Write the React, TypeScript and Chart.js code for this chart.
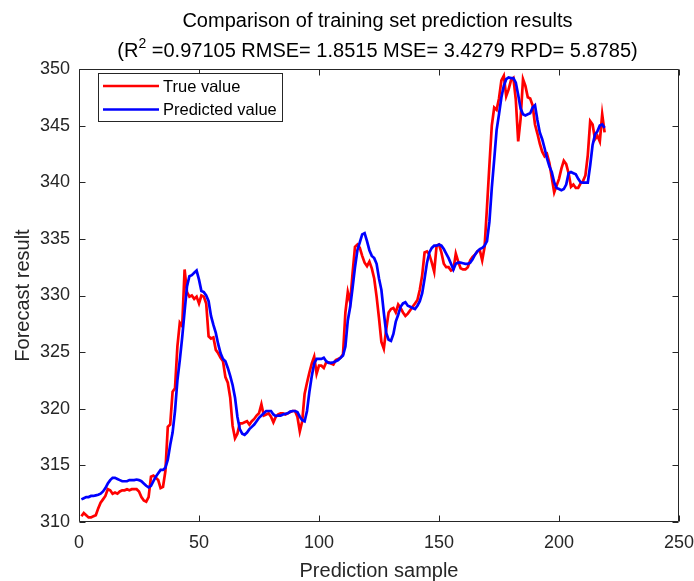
import React, { useEffect, useRef } from "react";
import { Chart, registerables } from "chart.js";

Chart.register(...registerables);

const trueValues = [
  310.5, 310.8, 310.6, 310.4, 310.4, 310.5, 310.6, 311.2, 311.7, 312.0,
  312.3, 312.9, 312.8, 312.5, 312.6, 312.5, 312.7, 312.8, 312.8, 312.9,
  312.8, 312.9, 312.9, 312.9, 312.7, 312.2, 311.9, 311.8, 312.2, 314.0,
  314.1, 313.9, 313.7, 313.0, 313.1, 314.5, 318.4, 318.6, 321.5, 321.8,
  325.5, 327.6, 327.3, 332.3, 330.3, 329.9, 330.0, 329.7, 329.9, 329.3,
  330.0, 329.9, 329.3, 326.4, 326.2, 326.3, 325.2, 324.9, 324.5, 324.2,
  322.8, 322.3, 321.0, 318.5, 317.4, 317.8, 318.7, 318.7, 318.8, 318.9,
  318.6, 318.9, 319.1, 319.4, 319.6, 320.4, 319.4, 319.5, 319.6, 319.3,
  318.8, 319.3, 319.5, 319.6, 319.6, 319.5, 319.6, 319.7, 319.8, 319.8,
  319.3, 318.0, 318.9, 321.3, 322.3, 323.2, 324.0, 324.6, 323.1, 323.8,
  323.8, 323.6, 324.1, 324.1, 324.0, 323.9, 324.3, 324.4, 324.5, 324.8,
  328.5, 330.3, 329.4, 332.0, 334.3, 334.5, 334.2, 333.5, 332.9, 332.6,
  333.0, 332.4, 331.5, 329.9, 328.0, 325.9, 325.3, 327.0, 328.5, 328.8,
  328.9, 328.5, 329.2, 328.9, 328.5, 328.2, 328.4, 328.7, 329.0, 329.3,
  329.6, 330.5, 331.8, 333.8, 333.9, 333.6, 332.9, 332.1, 334.4, 334.5,
  333.8, 332.8, 332.5, 332.5, 332.2, 332.3, 333.7, 333.0, 332.4, 332.3,
  332.3, 332.5, 333.1, 333.4, 333.6, 333.9, 334.0, 333.1, 334.3, 337.8,
  341.5, 345.0, 346.6, 346.4, 347.4, 349.0, 349.4, 347.6, 348.2, 349.0,
  349.2, 347.3, 343.6, 345.6, 349.1, 348.5, 347.5, 347.4, 346.8, 345.1,
  344.3, 343.4, 342.7, 342.3, 342.5, 341.7, 340.4, 339.1, 339.7, 340.3,
  341.2, 341.9, 341.6, 340.8, 339.6, 339.8, 339.5, 339.5, 339.9, 340.1,
  340.6, 342.4, 345.4, 345.1, 343.8, 344.1, 343.6, 346.0, 344.4,
];

const predictedValues = [
  312.0, 312.1, 312.2, 312.2, 312.3, 312.3, 312.35, 312.4, 312.5, 312.7,
  313.0, 313.4, 313.7, 313.9, 313.9, 313.8, 313.7, 313.6, 313.6, 313.6,
  313.7, 313.7, 313.7, 313.75, 313.7, 313.6, 313.4, 313.2, 313.05, 313.2,
  313.6, 314.0, 314.3, 314.6, 314.6, 314.8, 315.5, 316.8, 317.9, 319.8,
  322.5, 324.3, 326.3, 328.6, 330.8, 331.7, 331.8, 332.0, 332.2, 331.4,
  330.4, 330.3, 330.0, 329.5, 328.2, 327.4, 326.7, 325.7, 324.9, 324.4,
  324.2, 323.6, 322.9, 322.1, 321.0, 319.3, 318.2, 317.8, 317.7, 317.9,
  318.2, 318.4, 318.6, 318.9, 319.2, 319.4, 319.6, 319.8, 319.8, 319.8,
  319.5, 319.35, 319.4, 319.4, 319.5, 319.55, 319.6, 319.75, 319.8, 319.8,
  319.7, 319.3, 319.0, 318.9, 319.8, 321.5, 322.9, 324.0, 324.4, 324.4,
  324.4, 324.5, 324.2, 324.05, 324.05, 324.1, 324.2, 324.3, 324.5, 324.7,
  325.5, 327.8, 329.0, 330.7, 332.5, 334.0, 334.7, 335.4, 335.5, 334.8,
  334.0, 333.5, 333.3, 332.8, 331.5, 330.5, 328.5, 326.7, 326.1, 326.0,
  326.6, 327.7, 328.3, 329.0, 329.3, 329.4, 329.1, 329.0, 328.9, 328.8,
  329.1, 329.5, 330.2, 331.5, 332.9, 333.8, 334.2, 334.4, 334.4, 334.5,
  334.4, 334.1, 333.7, 333.3, 332.8, 332.3, 332.8, 332.9, 332.9, 332.85,
  332.8, 332.8, 332.9, 333.2, 333.6, 333.9, 334.1, 334.2, 334.4, 334.8,
  336.5, 339.5, 342.0, 344.6, 346.0, 347.5, 348.5, 349.1, 349.25, 349.2,
  349.2, 348.8, 347.7, 346.5, 346.0, 345.9, 346.0, 346.1, 346.6, 346.8,
  345.5, 344.4, 343.8, 343.0, 342.1, 341.4, 340.9, 340.0, 339.5, 339.4,
  339.3, 339.4, 339.8, 340.8, 340.9, 340.8, 340.7, 340.3, 340.0, 339.97,
  339.97, 339.97, 341.5, 343.3, 344.2, 344.5, 345.0, 345.1, 344.8,
];

const sampleIndex = trueValues.map((_, i) => i + 1);

const xTicks = [0, 50, 100, 150, 200, 250];
const yTicks = [310, 315, 320, 325, 330, 335, 340, 345, 350];

const titleLine1 = "Comparison of training set prediction results";
const titleLine2Parts = ["(R", "2", " =0.97105 RMSE= 1.8515 MSE= 3.4279 RPD= 5.8785)"];
const xLabel = "Prediction sample";
const yLabel = "Forecast result";
const seriesLabels = ["True value", "Predicted value"];
const seriesColors = ["#ff0000", "#0000ff"];

const FONT = "'Liberation Sans', Arial, Helvetica, sans-serif";
const AXIS_COLOR = "#262626";

const W = 694;
const H = 581;

const decorPlugin = {
  id: "matlabDecor",
  afterDraw(chart: any) {
    const ctx = chart.ctx as CanvasRenderingContext2D;
    const { left, right, top, bottom } = chart.chartArea;
    const xs = chart.scales.x;
    const ys = chart.scales.y;
    ctx.save();
    // box
    ctx.strokeStyle = AXIS_COLOR;
    ctx.lineWidth = 1;
    const L = Math.round(left) + 0.5;
    const R = Math.round(right) - 0.5;
    const T = Math.round(top) + 0.5;
    const B = Math.round(bottom) - 0.5;
    ctx.beginPath();
    ctx.rect(L, T, R - L, B - T);
    ctx.stroke();
    // inward ticks
    const tl = 6;
    ctx.beginPath();
    xTicks.forEach((v) => {
      const px = Math.round(xs.getPixelForValue(v)) + 0.5;
      ctx.moveTo(px, B);
      ctx.lineTo(px, B - tl);
      ctx.moveTo(px, T);
      ctx.lineTo(px, T + tl);
    });
    yTicks.forEach((v) => {
      const py = Math.round(ys.getPixelForValue(v)) + 0.5;
      ctx.moveTo(L, py);
      ctx.lineTo(L + tl, py);
      ctx.moveTo(R, py);
      ctx.lineTo(R - tl, py);
    });
    ctx.stroke();

    // legend
    const lx = 98.5, ly = 73.5, lw = 184, lh = 48;
    ctx.fillStyle = "#ffffff";
    ctx.fillRect(lx, ly, lw, lh);
    ctx.strokeStyle = AXIS_COLOR;
    ctx.lineWidth = 1;
    ctx.strokeRect(lx, ly, lw, lh);
    const rows = [86, 109.5];
    ctx.font = `16.5px ${FONT}`;
    ctx.textBaseline = "middle";
    ctx.textAlign = "left";
    chart.data.datasets.forEach((ds: any, i: number) => {
      const y = rows[i];
      ctx.strokeStyle = ds.borderColor;
      ctx.lineWidth = 2.7;
      ctx.beginPath();
      ctx.moveTo(103, y);
      ctx.lineTo(159, y);
      ctx.stroke();
      ctx.fillStyle = "#000000";
      ctx.fillText(ds.label, 163, y + 1);
    });

    // titles
    const cx = (left + right) / 2 - 1.5;
    ctx.fillStyle = "#000000";
    ctx.textBaseline = "alphabetic";
    ctx.textAlign = "center";
    ctx.font = `20px ${FONT}`;
    ctx.fillText(titleLine1, cx, 26.5);

    ctx.textAlign = "left";
    const big = `20px ${FONT}`;
    const small = `14px ${FONT}`;
    ctx.font = big;
    const w0 = ctx.measureText(titleLine2Parts[0]).width;
    const w2 = ctx.measureText(titleLine2Parts[2]).width;
    ctx.font = small;
    const w1 = ctx.measureText(titleLine2Parts[1]).width;
    let sx = cx - (w0 + w1 + w2) / 2;
    const by = 56.5;
    ctx.font = big;
    ctx.fillText(titleLine2Parts[0], sx, by);
    sx += w0;
    ctx.font = small;
    ctx.fillText(titleLine2Parts[1], sx, by - 8.5);
    sx += w1;
    ctx.font = big;
    ctx.fillText(titleLine2Parts[2], sx, by);

    // axis labels
    ctx.fillStyle = AXIS_COLOR;
    ctx.font = `20px ${FONT}`;
    ctx.textAlign = "center";
    ctx.textBaseline = "alphabetic";
    ctx.fillText(xLabel, (left + right) / 2, 577);
    ctx.save();
    ctx.translate(23, (top + bottom) / 2);
    ctx.rotate(-Math.PI / 2);
    ctx.textBaseline = "middle";
    ctx.fillText(yLabel, 0, 0);
    ctx.restore();

    ctx.restore();
  },
};

function ChartView() {
  const ref = useRef<HTMLCanvasElement | null>(null);
  useEffect(() => {
    if (!ref.current) return;
    const chart = new Chart(ref.current, {
      type: "line",
      data: {
        datasets: [
          {
            label: seriesLabels[0],
            data: sampleIndex.map((x, i) => ({ x, y: trueValues[i] })),
            borderColor: seriesColors[0],
            backgroundColor: seriesColors[0],
            borderWidth: 2.7,
            pointRadius: 0,
            tension: 0,
            order: 2,
          },
          {
            label: seriesLabels[1],
            data: sampleIndex.map((x, i) => ({ x, y: predictedValues[i] })),
            borderColor: seriesColors[1],
            backgroundColor: seriesColors[1],
            borderWidth: 2.7,
            pointRadius: 0,
            tension: 0,
            order: 1,
          },
        ],
      },
      options: {
        animation: false,
        responsive: false,
        devicePixelRatio: 1,
        layout: { padding: { top: 69, right: 15, left: 0, bottom: 0 } },
        plugins: {
          legend: { display: false },
          title: { display: false },
          tooltip: { enabled: false },
        },
        scales: {
          x: {
            type: "linear",
            min: 0,
            max: 250,
            afterBuildTicks: (s: any) => {
              s.ticks = xTicks.map((v) => ({ value: v }));
            },
            afterFit: (s: any) => {
              s.height = 59;
              s.paddingLeft = 0;
              s.paddingRight = 0;
            },
            grid: { display: false, drawTicks: false },
            border: { display: false },
            ticks: {
              color: AXIS_COLOR,
              font: { family: FONT, size: 18 },
              padding: 10,
              maxRotation: 0,
              autoSkip: false,
            },
          },
          y: {
            type: "linear",
            min: 310,
            max: 350,
            afterBuildTicks: (s: any) => {
              s.ticks = yTicks.map((v) => ({ value: v }));
            },
            afterFit: (s: any) => {
              s.width = 79;
              s.paddingTop = 0;
              s.paddingBottom = 0;
            },
            grid: { display: false, drawTicks: false },
            border: { display: false },
            ticks: {
              color: AXIS_COLOR,
              font: { family: FONT, size: 18 },
              padding: 9,
              autoSkip: false,
            },
          },
        },
      },
      plugins: [decorPlugin],
    } as any);
    return () => chart.destroy();
  }, []);
  return <canvas ref={ref} width={W} height={H} style={{ width: W, height: H, display: "block" }} />;
}

export default function App() {
  return (
    <div style={{ position: "absolute", left: 0, top: 0, width: W, height: H, background: "#ffffff" }}>
      <ChartView />
    </div>
  );
}
